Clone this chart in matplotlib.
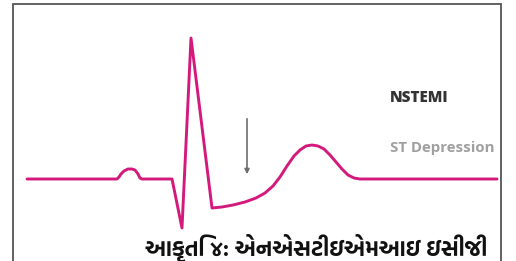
import matplotlib
matplotlib.use('Agg')
import matplotlib.pyplot as plt

# ECG trace: time (arbitrary units) and amplitude (mV, baseline = 0)
ecg_t = [27, 117, 119, 121, 124, 128, 132, 135, 138, 140, 142, 172, 182, 191, 212,
         222, 233, 245, 256, 265, 273, 280, 287, 294, 300, 306, 312, 318, 324,
         330, 336, 342, 348, 354, 360, 497]
ecg_mv = [0.00, 0.00, 0.02, 0.05, 0.08, 0.10, 0.10, 0.09, 0.05, 0.01, 0.00, 0.00, -0.49, 1.41, -0.29,
          -0.28, -0.26, -0.23, -0.19, -0.14, -0.07, 0.02, 0.13, 0.23, 0.29, 0.33, 0.34, 0.33, 0.30,
          0.24, 0.17, 0.10, 0.04, 0.01, 0.00, 0.00]

arrow_t = 247
arrow_from = 0.63
arrow_to = 0.02

title_txt = 'NSTEMI'
label_txt = 'ST Depression'
caption = 'આકૃતિ ૪: એનએસટીઇએમઆઇ ઇસીજી'

fig = plt.figure(figsize=(5.16, 2.61), dpi=100)
ax = fig.add_axes([0, 0, 1, 1])
ax.set_xlim(0, 516)
ax.set_ylim(-0.82, 1.79)
ax.axis('off')

# frame (open at the bottom)
ax.plot([13, 13, 501, 501], [-0.82, 1.75, 1.75, -0.82], color='#555555', lw=1.3,
        solid_joinstyle='miter')

ax.plot(ecg_t, ecg_mv, color='#d4197c', lw=2.1, solid_joinstyle='round', solid_capstyle='round')

ax.annotate('', xy=(arrow_t, arrow_to), xytext=(arrow_t, arrow_from),
            arrowprops=dict(arrowstyle='-|>', color='#6e6e6e', lw=1.2, mutation_scale=7))

ax.text(390, 0.81, title_txt, fontsize=11, fontweight='heavy', color='#333333',
        family='Open Sans', va='center', ha='left')
ax.text(390, 0.31, label_txt, fontsize=10.8, fontweight='bold', color='#a0a0a0',
        family='Open Sans', va='center', ha='left')

ax.text(316, -0.69, caption, fontsize=16, fontweight='bold',
        color='#111111', family=['Hind Vadodara', 'Mukta Vaani', 'DejaVu Sans'],
        va='center', ha='center')

fig.savefig('out.png', dpi=100)
